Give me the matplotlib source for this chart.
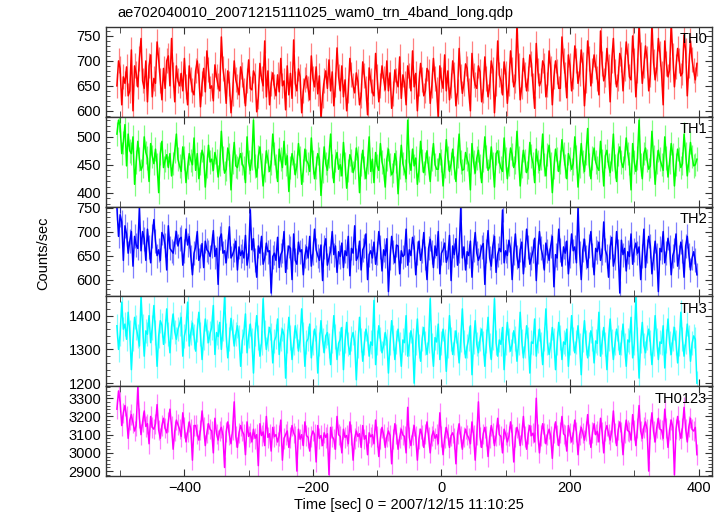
import numpy as np
import matplotlib
matplotlib.use("Agg")
import matplotlib.pyplot as plt
from matplotlib.ticker import MultipleLocator

plt.rcParams['font.family'] = ['Liberation Sans', 'DejaVu Sans']

# time grid of the light curve, sec from 2007/12/15 11:10:25
t = np.arange(-505, 400, 2.5)

th0 = [650, 700, 685, 612, 668, 655, 688, 630, 640, 722, 600, 690, 675, 648, 705, 745, 660, 645, 700, 618,
       690, 712, 628, 665, 655, 738, 702, 660, 622, 685, 645, 700, 710, 650, 745, 672, 618, 690, 660, 650,
       675, 640, 705, 648, 612, 690, 662, 640, 632, 680, 700, 670, 608, 655, 685, 638, 720, 682, 645, 650,
       620, 692, 668, 650, 640, 748, 685, 660, 615, 680, 655, 596, 635, 700, 662, 648, 632, 688, 672, 640,
       610, 660, 702, 645, 642, 680, 670, 598, 628, 695, 665, 650, 740, 628, 680, 612, 655, 676, 648, 630,
       672, 638, 705, 650, 660, 602, 690, 632, 675, 625, 742, 655, 640, 684, 668, 596, 640, 662, 670, 645,
       622, 710, 665, 648, 688, 634, 670, 585, 630, 660, 680, 645, 702, 640, 678, 610, 652, 726, 668, 640,
       690, 628, 662, 600, 640, 705, 672, 650, 636, 676, 658, 612, 630, 698, 670, 645, 592, 686, 660, 638,
       630, 715, 668, 618, 650, 690, 665, 642, 700, 640, 676, 605, 635, 682, 660, 648, 708, 625, 672, 655,
       612, 690, 670, 640, 720, 648, 675, 600, 655, 695, 662, 630, 640, 685, 678, 615, 650, 705, 665, 642,
       585, 690, 662, 645, 712, 640, 680, 622, 650, 700, 672, 610, 638, 725, 668, 635, 655, 694, 685, 640,
       600, 715, 670, 652, 645, 690, 678, 618, 640, 708, 665, 628, 648, 700, 682, 596, 655, 740, 672, 660,
       632, 698, 675, 615, 655, 720, 682, 648, 660, 775, 690, 622, 648, 705, 672, 640, 665, 712, 695, 650,
       605, 735, 680, 650, 660, 700, 690, 628, 652, 720, 685, 612, 668, 700, 678, 645, 645, 748, 700, 672,
       626, 712, 690, 640, 668, 730, 700, 655, 675, 722, 692, 610, 660, 740, 705, 650, 680, 712, 688, 665,
       632, 760, 695, 660, 672, 725, 688, 618, 700, 745, 678, 648, 665, 715, 702, 640, 685, 738, 710, 668,
       662, 750, 700, 628, 680, 775, 712, 655, 690, 730, 705, 640, 672, 775, 698, 662, 685, 745, 715, 675,
       612, 740, 695, 668, 682, 775, 710, 648, 688, 725, 700, 670, 676, 752, 720, 630, 690, 740, 702, 680,
       662, 695]

th1 = [505, 530, 520, 470, 490, 522, 448, 505, 475, 470, 500, 415, 455, 492, 460, 440, 448, 500, 472, 462,
       420, 488, 465, 452, 478, 450, 400, 470, 492, 445, 458, 468, 445, 470, 430, 452, 475, 505, 460, 448,
       438, 482, 462, 418, 445, 470, 458, 450, 498, 440, 470, 425, 452, 476, 465, 410, 448, 485, 455, 460,
       440, 472, 458, 428, 450, 510, 462, 435, 442, 480, 468, 405, 455, 490, 448, 445, 460, 470, 452, 445,
       418, 500, 455, 440, 462, 530, 448, 428, 465, 482, 450, 412, 440, 475, 458, 438, 452, 505, 470, 448,
       420, 478, 460, 445, 492, 450, 466, 402, 445, 470, 455, 432, 448, 488, 462, 415, 440, 478, 458, 452,
       438, 498, 455, 425, 445, 470, 460, 395, 438, 482, 452, 440, 465, 505, 448, 418, 458, 472, 442, 450,
       430, 490, 452, 408, 440, 468, 458, 436, 446, 480, 462, 400, 450, 476, 445, 425, 455, 500, 438, 460,
       418, 472, 448, 440, 488, 455, 442, 410, 460, 478, 450, 432, 438, 470, 456, 398, 445, 485, 452, 440,
       425, 530, 455, 440, 478, 448, 462, 415, 440, 492, 458, 436, 452, 475, 445, 420, 460, 488, 450, 442,
       442, 470, 458, 412, 448, 495, 462, 438, 452, 478, 445, 420, 465, 505, 455, 440, 442, 472, 460, 450,
       405, 488, 455, 435, 462, 476, 448, 418, 458, 500, 465, 440, 446, 482, 452, 410, 470, 475, 456, 444,
       438, 498, 460, 425, 450, 480, 468, 445, 455, 510, 462, 412, 448, 476, 458, 436, 445, 490, 466, 452,
       418, 478, 456, 440, 462, 505, 450, 430, 468, 485, 452, 400, 445, 478, 460, 438, 455, 495, 470, 448,
       425, 470, 460, 442, 452, 500, 465, 410, 448, 488, 456, 438, 470, 515, 450, 425, 462, 480, 455, 445,
       440, 492, 458, 412, 466, 476, 450, 436, 460, 505, 448, 420, 468, 482, 455, 445, 462, 498, 470, 452,
       405, 488, 455, 438, 462, 530, 450, 425, 470, 480, 458, 442, 448, 510, 465, 415, 455, 476, 460, 450,
       440, 500, 462, 428, 455, 488, 468, 412, 450, 478, 460, 445, 452, 505, 470, 430, 458, 490, 465, 448,
       450, 460]

th2 = [750, 690, 735, 720, 640, 712, 695, 655, 680, 700, 628, 690, 672, 665, 750, 660, 700, 685, 640, 705,
       668, 635, 690, 725, 680, 650, 662, 640, 698, 690, 672, 620, 712, 665, 660, 655, 678, 700, 670, 685,
       688, 630, 660, 705, 672, 690, 648, 610, 655, 668, 700, 640, 650, 675, 625, 680, 662, 658, 648, 670,
       702, 648, 665, 590, 686, 695, 655, 660, 635, 670, 710, 645, 652, 662, 680, 620, 668, 650, 660, 645,
       692, 630, 650, 745, 662, 685, 640, 605, 670, 655, 690, 632, 645, 676, 658, 660, 572, 648, 655, 640,
       688, 625, 652, 660, 700, 615, 648, 670, 665, 600, 695, 640, 632, 678, 658, 662, 610, 650, 668, 645,
       690, 628, 655, 705, 662, 650, 640, 672, 598, 668, 685, 630, 645, 660, 700, 652, 670, 615, 658, 648,
       676, 625, 660, 650, 690, 608, 665, 655, 712, 640, 648, 680, 620, 662, 670, 695, 600, 652, 660, 645,
       678, 632, 655, 700, 668, 618, 662, 650, 685, 575, 645, 690, 658, 635, 672, 670, 612, 660, 648, 652,
       705, 630, 662, 650, 688, 668, 610, 655, 680, 640, 660, 698, 645, 600, 665, 684, 658, 625, 670, 650,
       700, 612, 655, 662, 676, 636, 648, 692, 598, 670, 652, 685, 630, 660, 750, 645, 668, 620, 658, 650,
       680, 605, 662, 698, 655, 640, 650, 668, 675, 590, 660, 702, 645, 628, 670, 690, 615, 652, 665, 658,
       745, 635, 660, 650, 682, 665, 600, 655, 695, 648, 625, 662, 678, 612, 652, 705, 668, 632, 645, 660,
       686, 598, 658, 700, 665, 650, 620, 676, 660, 640, 670, 690, 585, 652, 645, 705, 662, 628, 668, 655,
       680, 612, 650, 695, 660, 668, 635, 752, 655, 600, 662, 684, 648, 625, 670, 700, 652, 610, 665, 658,
       678, 640, 655, 720, 662, 650, 605, 668, 688, 628, 645, 700, 660, 572, 682, 652, 665, 618, 658, 648,
       695, 632, 662, 676, 655, 668, 600, 650, 705, 625, 660, 690, 670, 612, 645, 680, 652, 575, 665, 658,
       700, 635, 655, 686, 668, 610, 650, 662, 695, 628, 648, 678, 660, 605, 670, 690, 652, 620, 645, 658,
       640, 610]

th3 = [1370, 1300, 1345, 1440, 1360, 1375, 1330, 1410, 1350, 1240, 1330, 1395, 1365, 1340, 1310, 1455, 1370, 1280, 1355, 1345,
       1400, 1320, 1365, 1430, 1350, 1250, 1340, 1385, 1372, 1315, 1355, 1420, 1345, 1290, 1368, 1405, 1352, 1330, 1360, 1375,
       1395, 1280, 1340, 1362, 1440, 1310, 1350, 1378, 1338, 1295, 1358, 1410, 1345, 1270, 1335, 1390, 1355, 1320, 1348, 1365,
       1430, 1285, 1350, 1338, 1380, 1300, 1360, 1455, 1342, 1275, 1330, 1392, 1355, 1310, 1345, 1370, 1335, 1250, 1325, 1348,
       1405, 1290, 1340, 1375, 1328, 1230, 1345, 1400, 1335, 1280, 1320, 1450, 1350, 1300, 1332, 1365, 1342, 1260, 1325, 1338,
       1390, 1285, 1330, 1360, 1342, 1215, 1325, 1395, 1335, 1270, 1318, 1370, 1340, 1295, 1328, 1420, 1345, 1250, 1322, 1332,
       1375, 1275, 1320, 1360, 1335, 1230, 1315, 1385, 1328, 1290, 1340, 1350, 1312, 1255, 1325, 1400, 1338, 1270, 1318, 1330,
       1365, 1240, 1325, 1380, 1315, 1285, 1332, 1350, 1320, 1210, 1310, 1395, 1328, 1265, 1318, 1360, 1335, 1280, 1322, 1312,
       1445, 1255, 1320, 1370, 1330, 1290, 1312, 1350, 1325, 1230, 1318, 1385, 1335, 1270, 1322, 1360, 1315, 1250, 1328, 1320,
       1400, 1280, 1315, 1355, 1328, 1200, 1320, 1390, 1310, 1265, 1332, 1365, 1318, 1285, 1325, 1450, 1312, 1250, 1335, 1322,
       1375, 1270, 1318, 1360, 1325, 1235, 1312, 1400, 1330, 1285, 1320, 1355, 1315, 1260, 1328, 1420, 1322, 1275, 1310, 1332,
       1370, 1225, 1322, 1385, 1315, 1290, 1330, 1360, 1318, 1250, 1325, 1395, 1312, 1270, 1335, 1450, 1320, 1280, 1328, 1315,
       1365, 1240, 1320, 1380, 1328, 1295, 1315, 1355, 1332, 1265, 1318, 1410, 1325, 1275, 1312, 1370, 1330, 1230, 1322, 1318,
       1390, 1280, 1325, 1360, 1315, 1255, 1330, 1420, 1320, 1285, 1312, 1365, 1328, 1240, 1318, 1380, 1335, 1270, 1322, 1315,
       1360, 1250, 1318, 1400, 1330, 1290, 1322, 1370, 1312, 1225, 1328, 1385, 1320, 1275, 1315, 1355, 1332, 1260, 1325, 1318,
       1410, 1280, 1322, 1365, 1315, 1240, 1330, 1390, 1325, 1270, 1318, 1360, 1335, 1285, 1320, 1375, 1312, 1250, 1328, 1322,
       1395, 1275, 1318, 1455, 1330, 1215, 1325, 1380, 1312, 1290, 1335, 1360, 1320, 1255, 1315, 1400, 1328, 1270, 1322, 1318,
       1370, 1245, 1325, 1390, 1318, 1285, 1332, 1365, 1320, 1260, 1315, 1410, 1330, 1280, 1322, 1375, 1335, 1265, 1318, 1340,
       1330, 1200]

th0123 = [3240, 3340, 3280, 3150, 3220, 3260, 3200, 3080, 3180, 3210, 3165, 3120, 3150, 3360, 3190, 3100, 3170, 3230, 3145, 3160,
          3050, 3200, 3140, 3130, 3160, 3265, 3125, 3080, 3150, 3190, 3135, 3110, 3170, 3240, 3145, 3020, 3120, 3180, 3155, 3130,
          3090, 3220, 3140, 3060, 3115, 3170, 3130, 2960, 3150, 3150, 3105, 3070, 3125, 3230, 3140, 3040, 3110, 3160, 3130, 3120,
          3000, 3190, 3105, 3070, 3120, 3140, 3095, 2920, 3115, 3170, 3100, 3050, 3125, 3280, 3090, 3030, 3110, 3150, 3120, 3100,
          2990, 3170, 3090, 3110, 3060, 3130, 3080, 3100, 2930, 3160, 3095, 3115, 3040, 3200, 3085, 3105, 3010, 3140, 3090, 3100,
          3060, 3095, 3180, 2960, 3080, 3100, 3120, 3030, 3085, 3150, 3110, 3090, 2900, 3130, 3075, 3100, 3040, 3170, 3095, 3085,
          3010, 3090, 3120, 3100, 2950, 3150, 3080, 3095, 3040, 3110, 3085, 3105, 2880, 3140, 3090, 3075, 3020, 3200, 3100, 3090,
          3000, 3130, 3085, 3095, 3050, 3170, 3100, 2960, 3080, 3120, 3090, 3105, 3030, 3150, 3075, 3095, 2990, 3110, 3088, 3100,
          3050, 3180, 3090, 2980, 3080, 3140, 3100, 3030, 3088, 3120, 3095, 2940, 3075, 3160, 3105, 3020, 3085, 3130, 3098, 3090,
          3000, 3250, 3085, 3040, 3100, 3150, 3090, 2960, 3078, 3130, 3095, 3030, 3105, 3170, 3088, 3000, 3092, 3120, 3080, 3100,
          3050, 3220, 3090, 2990, 3085, 3140, 3100, 3030, 3095, 3110, 3080, 2940, 3105, 3160, 3090, 3020, 3088, 3130, 3098, 3082,
          3050, 3170, 3095, 2960, 3100, 3280, 3088, 3030, 3105, 3140, 3092, 2980, 3085, 3150, 3110, 3040, 3095, 3190, 3100, 3090,
          3000, 3130, 3100, 3060, 3092, 3170, 3105, 2950, 3088, 3140, 3110, 3040, 3098, 3200, 3090, 3020, 3105, 3150, 3095, 3108,
          3060, 3300, 3102, 3000, 3095, 3160, 3110, 3050, 3100, 3130, 3092, 2970, 3108, 3170, 3098, 3040, 3112, 3200, 3105, 3095,
          3010, 3150, 3110, 3060, 3102, 3180, 3115, 2990, 3098, 3140, 3108, 3070, 3120, 3210, 3105, 3030, 3112, 3160, 3100, 3118,
          3060, 3190, 3112, 3000, 3120, 3150, 3105, 3070, 3118, 3230, 3110, 3040, 3125, 3170, 3115, 2990, 3108, 3180, 3122, 3115,
          3070, 3210, 3125, 3040, 3135, 3260, 3120, 3080, 3140, 3170, 3128, 2900, 3132, 3220, 3118, 3060, 3138, 3190, 3130, 3125,
          3080, 3240, 3135, 3030, 3128, 3180, 3140, 2880, 3130, 3200, 3125, 3080, 3138, 3250, 3132, 3060, 3145, 3190, 3128, 3120,
          3140, 2990]

# rough size of the error bars seen in each band
errs = [25, 21, 25, 36, 56]

names = ["TH0", "TH1", "TH2", "TH3", "TH0123"]
series = [th0, th1, th2, th3, th0123]
colors = ["#ff0000", "#00ff00", "#0000ff", "#00ffff", "#ff00ff"]
ylims = [(588, 768), (375, 536), (565, 752), (1191, 1457), (2873, 3366)]
ymajor = [50, 50, 50, 100, 100]
yminor = [10, 10, 10, 20, 20]

fig, axes = plt.subplots(5, 1, sharex=True, figsize=(7.23, 5.16), dpi=100)
fig.subplots_adjust(left=0.1466, right=0.9848, top=0.9477, bottom=0.0775, hspace=0)

for ax, name, y, e, c, lim, maj, mnr in zip(axes, names, series, errs, colors, ylims, ymajor, yminor):
    ax.errorbar(t, y, yerr=e, fmt='none', ecolor=c, elinewidth=0.9, alpha=0.5)
    ax.plot(t, y, color=c, lw=1.1)
    ax.set_ylim(*lim)
    ax.set_xlim(-522, 421)
    ax.yaxis.set_major_locator(MultipleLocator(maj))
    ax.yaxis.set_minor_locator(MultipleLocator(mnr))
    ax.xaxis.set_major_locator(MultipleLocator(200))
    ax.xaxis.set_minor_locator(MultipleLocator(100))
    ax.tick_params(which='both', direction='in', top=True, right=True,
                   labelsize=10.5, color='#333333')
    ax.tick_params(which='major', length=5)
    ax.tick_params(which='minor', length=3)
    ax.tick_params(axis='x', which='minor', length=4)
    for s in ax.spines.values():
        s.set_color('#333333')
        s.set_linewidth(1.0)
    ax.text(0.992, 0.94, name, transform=ax.transAxes, ha='right', va='top',
            fontsize=10.5)

axes[-1].set_xlabel("Time [sec] 0 = 2007/12/15 11:10:25", fontsize=10.5, labelpad=2)
fig.text(0.06, 0.51, "Counts/sec", rotation=90, ha='center', va='center', fontsize=10.5)
fig.text(0.163, 0.975, "ae702040010_20071215111025_wam0_trn_4band_long.qdp",
         ha='left', va='center', fontsize=10.5)

fig.savefig("out.png", dpi=100)
